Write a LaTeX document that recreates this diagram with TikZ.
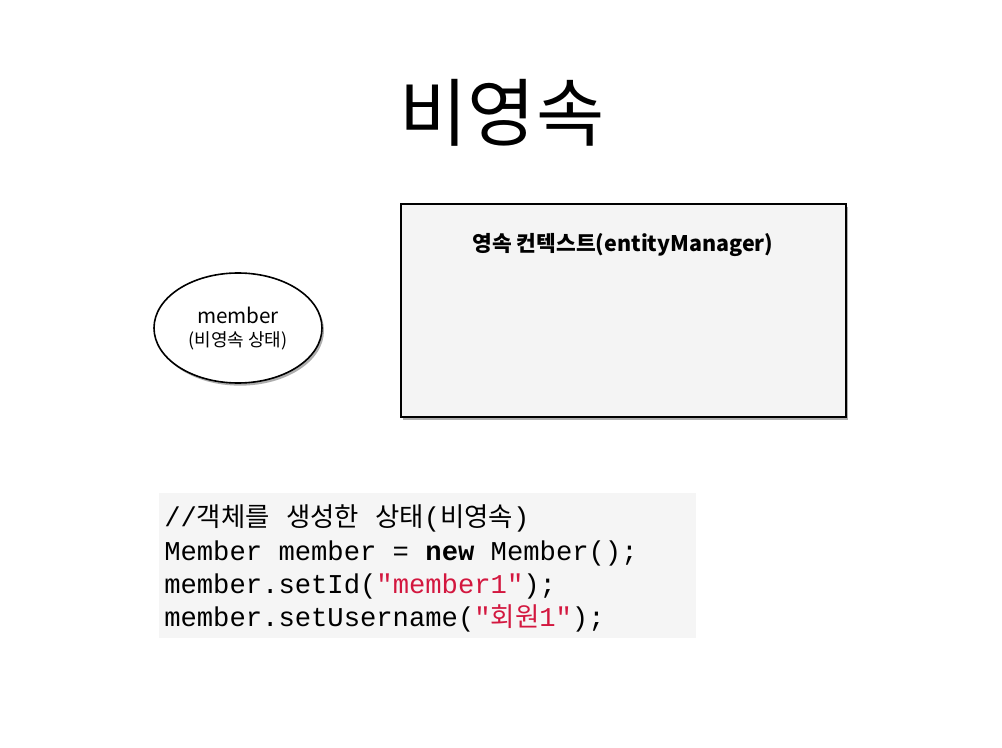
\documentclass[tikz,border=0pt]{standalone}
\usepackage{fontspec}
\setmainfont{Liberation Sans}
\setmonofont{Liberation Mono}
\newfontfamily\kr{Noto Sans CJK KR}
\usetikzlibrary{shadows}
\definecolor{boxfill}{HTML}{F4F4F4}
\definecolor{codebg}{HTML}{F5F5F5}
\definecolor{strred}{HTML}{D3173F}
\newcommand{\krc}[1]{{\kr\fontsize{19.8}{24}\selectfont #1}}
\begin{document}
\begin{tikzpicture}[x=0.75pt,y=-0.75pt,
  shadowed/.style={drop shadow={shadow xshift=1.5pt,shadow yshift=-2pt,opacity=0.45,fill=black!70}},
  codeline/.style={anchor=base west,inner sep=0pt,font=\ttfamily\fontsize{20.4}{24}\selectfont}]
\useasboundingbox (0,0) rectangle (1002,748);
% title
\node[inner sep=0pt,font=\kr\fontsize{55.5}{60}\selectfont] (title) at (502,113) {비영속};
% persistence context box
\draw[line width=1.5pt,fill=boxfill,shadowed] (401,204) rectangle (846,417);
\coordinate (boxtop) at (623,245);
\node[inner sep=0pt,font=\kr\bfseries\fontsize{16.1}{18}\selectfont] (ctx) at (boxtop) {영속 컨텍스트(entityManager)};
% member ellipse
\draw[line width=1.2pt,fill=white,shadowed] (238,328) ellipse [x radius=84,y radius=55];
\node[inner sep=0pt,font=\kr\fontsize{15.5}{18}\selectfont] (m1) at (238,315) {member};
\node[inner sep=0pt,font=\kr\fontsize{13.5}{16}\selectfont] (m2) at (238,341) {(비영속 상태)};
% code block
\fill[codebg] (159,493) rectangle (696,638);
\node[codeline] (c1) at (164,526) {//\krc{객체를} \krc{생성한} \krc{상태}(\krc{비영속})};
\node[codeline] (c2) at (164,560) {Member member = \textbf{new} Member();};
\node[codeline] (c3) at (164,593) {member.setId(\textcolor{strred}{"member1"});};
\node[codeline] (c4) at (164,626) {member.setUsername(\textcolor{strred}{"\krc{회원}1"});};
\end{tikzpicture}
\end{document}
